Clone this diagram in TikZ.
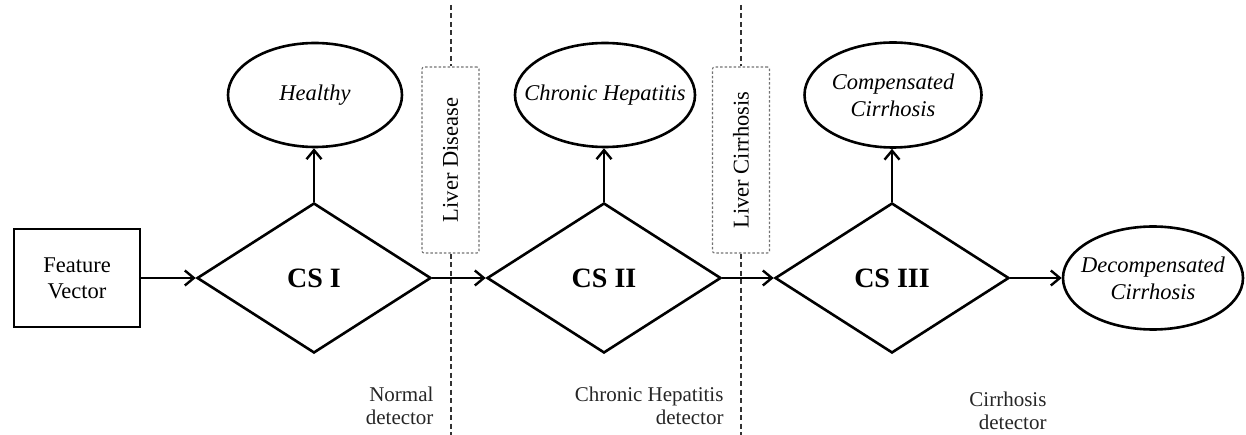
\documentclass[tikz,border=0pt]{standalone}
\usepackage{fontspec}
\setmainfont{Liberation Serif}
\usetikzlibrary{shapes.geometric,arrows.meta}
\begin{document}
\begin{tikzpicture}[x=1pt,y=-1pt,
  conn/.style={line width=2.6pt,-{Straight Barb[length=9pt,width=15pt,line width=2.4pt]}},
  dia/.style={draw,diamond,line width=2.6pt,minimum width=234pt,minimum height=150pt,inner sep=0pt,font=\fontsize{28}{31}\selectfont\bfseries},
  ell/.style={draw,ellipse,line width=2.6pt,inner xsep=-22pt,inner ysep=0pt,align=center,font=\fontsize{22.5}{27}\selectfont\itshape},
  boxnode/.style={draw,rectangle,line width=2.6pt,minimum width=126pt,minimum height=98pt,align=center,font=\fontsize{22.5}{26}\selectfont},
  zone/.style={draw=black!55,dash pattern=on 2.5pt off 2pt,line width=1.1pt,rounded corners=2pt,minimum width=57pt,minimum height=186pt,inner sep=0pt},
  zonetext/.style={rotate=90,font=\fontsize{22.5}{26}\selectfont},
  sep/.style={draw=black!80,line width=1.5pt,dash pattern=on 5pt off 3.5pt},
  note/.style={align=right,anchor=east,font=\fontsize{21}{23.5}\selectfont,text=black!85}
]
\useasboundingbox (0,0) rectangle (1246,435);

\node[boxnode] (fv) at (77,278) {Feature\\Vector};
\node[dia] (d1) at (314,278) {CS I};
\node[dia] (d2) at (604,278) {CS II};
\node[dia] (d3) at (892,278) {CS III};

\node[ell,minimum width=174pt,minimum height=104pt] (e1) at (315,95) {Healthy};
\node[ell,minimum width=180pt,minimum height=104pt] (e2) at (605,95) {Chronic Hepatitis};
\node[ell,minimum width=177pt,minimum height=105pt] (e3) at (893,95) {Compensated\\Cirrhosis};
\node[ell,minimum width=180pt,minimum height=103pt] (e4) at (1153,278) {Decompensated\\Cirrhosis};

% zone boxes and separators
\node[zone] (z1) at (450.5,160) {};
\node[zonetext] (z1t) at (z1.center) {Liver Disease};
\node[zone] (z2) at (741,160) {};
\node[zonetext] (z2t) at (z2.center) {Liver Cirrhosis};
\coordinate (s1top) at (451,5);
\coordinate (s1bot) at (451,435);
\coordinate (s2top) at (741,5);
\coordinate (s2bot) at (741,435);
\draw[sep] (s1top) -- (z1.north -| s1top);
\draw[sep] (z1.south -| s1top) -- (s1bot);
\draw[sep] (s2top) -- (z2.north -| s2top);
\draw[sep] (z2.south -| s2top) -- (s2bot);

% connectors
\draw[conn] (fv.east) -- (d1.west);
\draw[conn] (d1.east) -- (d2.west);
\draw[conn] (d2.east) -- (d3.west);
\draw[conn] (d3.east) -- (e4.west);
\draw[conn] (d1.north) -- (d1.north |- e1.south);
\draw[conn] (d2.north) -- (d2.north |- e2.south);
\draw[conn] (d3.north) -- (d3.north |- e3.south);

% detector labels
\node[note] (n1) at (437,406) {Normal\\detector};
\node[note] (n2) at (727,406) {Chronic Hepatitis\\detector};
\node[note] (n3) at (1050,411) {Cirrhosis\\detector};
\end{tikzpicture}
\end{document}
